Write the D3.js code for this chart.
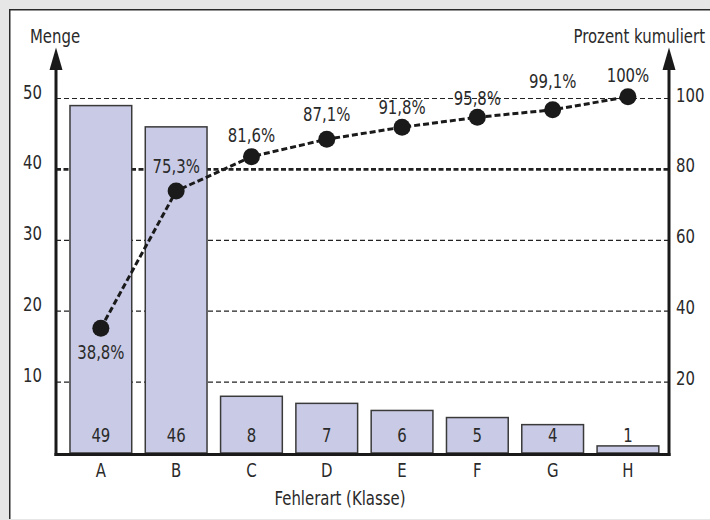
<!DOCTYPE html>
<html>
<head>
<meta charset="utf-8">
<script src="https://cdn.jsdelivr.net/npm/d3@7"></script>
<style>
  html, body { margin: 0; padding: 0; background: #e6e6e6; }
  svg text { font-family: "Liberation Sans Narrow", "DejaVu Sans Condensed", sans-serif; font-stretch: condensed; font-size: 19.5px; fill: #2a2a2a; }
</style>
</head>
<body>
<svg id="chart" width="710" height="520"></svg>
<script>
// Fehlerarten (Klassen) und Mengen
const categories = ["A", "B", "C", "D", "E", "F", "G", "H"];
const counts = [49, 46, 8, 7, 6, 5, 4, 1];
// kumulierte Prozent, Hoehe der Punkte
const cumPercent = [35.2, 73.9, 83.6, 88.5, 91.9, 94.7, 96.8, 100.5];
const cumLabels = ["38,8%", "75,3%", "81,6%", "87,1%", "91,8%", "95,8%", "99,1%", "100%"];
const leftTicks = [10, 20, 30, 40, 50];
const rightTicks = [20, 40, 60, 80, 100];

let svg = d3.select("#chart"),
    plotLeft = 56, plotRight = 669, plotTop = 98.5, plotBottom = 453;

// schmale Schrift: horizontal gestaucht
function place(sel, fx, fy) {
    return sel.attr("transform", function(d, i) {
        return "translate(" + fx(d, i) + "," + fy(d, i) + ") scale(0.85,1)";
    });
}

// weisses Feld mit Rahmen oben/links
svg.append("rect")
    .attr("x", 9).attr("y", 9)
    .attr("width", 701).attr("height", 510)
    .attr("fill", "#fff");
svg.append("path")
    .attr("d", "M9.75,519V9.75H710")
    .attr("fill", "none")
    .attr("stroke", "#2a2a2a")
    .attr("stroke-width", 1.5);

let x = d3.scaleBand().domain(categories).range([63.2, 665.6]).paddingInner(0.18).paddingOuter(0.09),
    y = d3.scaleLinear().domain([0, 50]).range([plotBottom, plotTop]),
    yp = d3.scaleLinear().domain([0, 100]).range([plotBottom, plotTop]);

// Gitterlinien (hinter den Balken)
svg.append("g").selectAll("line")
    .data(leftTicks)
    .enter().append("line")
    .attr("x1", plotLeft).attr("x2", plotRight)
    .attr("y1", d => y(d)).attr("y2", d => y(d))
    .attr("stroke", "#222")
    .attr("stroke-width", d => d === 40 ? 2.6 : 1.2)
    .attr("stroke-dasharray", d => d === 40 ? "5,2.5" : "5,3");

// Balken
svg.append("g").selectAll("rect")
    .data(counts)
    .enter().append("rect")
    .attr("x", (d, i) => x(categories[i]))
    .attr("y", d => y(d))
    .attr("width", x.bandwidth())
    .attr("height", d => plotBottom - y(d))
    .attr("fill", "#c9cae6")
    .attr("stroke", "#3a3a3a")
    .attr("stroke-width", 1.5);

// Mengen in den Balken
place(svg.append("g").selectAll("text")
    .data(counts)
    .enter().append("text"),
    (d, i) => x(categories[i]) + x.bandwidth() / 2, () => 442)
    .attr("text-anchor", "middle")
    .text(d => d);

// Achsen
svg.append("line")
    .attr("x1", plotLeft - 1.5).attr("x2", plotRight + 1.5)
    .attr("y1", plotBottom + 1.5).attr("y2", plotBottom + 1.5)
    .attr("stroke", "#1a1a1a").attr("stroke-width", 3);

[plotLeft, plotRight].forEach(function(ax) {
    svg.append("line")
        .attr("x1", ax).attr("x2", ax)
        .attr("y1", plotBottom + 3).attr("y2", 66)
        .attr("stroke", "#1a1a1a").attr("stroke-width", 3);
    svg.append("path")
        .attr("d", "M" + (ax - 6.5) + ",70L" + ax + ",47.5L" + (ax + 6.5) + ",70Z")
        .attr("fill", "#1a1a1a");
});

place(svg.append("g").selectAll("text")
    .data(leftTicks)
    .enter().append("text"),
    () => 42, d => y(d))
    .attr("text-anchor", "end")
    .text(d => d);

place(svg.append("g").selectAll("text")
    .data(rightTicks)
    .enter().append("text"),
    () => 676, d => yp(d) + 3)
    .text(d => d);

place(svg.append("g").selectAll("text")
    .data(categories)
    .enter().append("text"),
    d => x(d) + x.bandwidth() / 2, () => 477)
    .attr("text-anchor", "middle")
    .text(d => d);

place(svg.append("text"), () => 55, () => 42.7)
    .attr("text-anchor", "middle")
    .text("Menge");

place(svg.append("text"), () => 705, () => 42.7)
    .attr("text-anchor", "end")
    .text("Prozent kumuliert");

place(svg.append("text"), () => 340, () => 505)
    .attr("text-anchor", "middle")
    .text("Fehlerart (Klasse)");

// kumulierte Linie
let cx = i => x(categories[i]) + x.bandwidth() / 2;
let line = d3.line()
    .x((d, i) => cx(i))
    .y(d => yp(d));

svg.append("path")
    .attr("d", line(cumPercent))
    .attr("fill", "none")
    .attr("stroke", "#1a1a1a")
    .attr("stroke-width", 3)
    .attr("stroke-dasharray", "6,3");

svg.append("g").selectAll("circle")
    .data(cumPercent)
    .enter().append("circle")
    .attr("cx", (d, i) => cx(i))
    .attr("cy", d => yp(d))
    .attr("r", 8.5)
    .attr("fill", "#1a1a1a");

// Abstand der Beschriftung zum Punkt
let labelDy = [31, -18, -14.5, -18, -13, -12.5, -21.5, -15];
place(svg.append("g").selectAll("text")
    .data(cumLabels)
    .enter().append("text"),
    (d, i) => cx(i), (d, i) => yp(cumPercent[i]) + labelDy[i])
    .attr("text-anchor", "middle")
    .text(d => d);
</script>
</body>
</html>
